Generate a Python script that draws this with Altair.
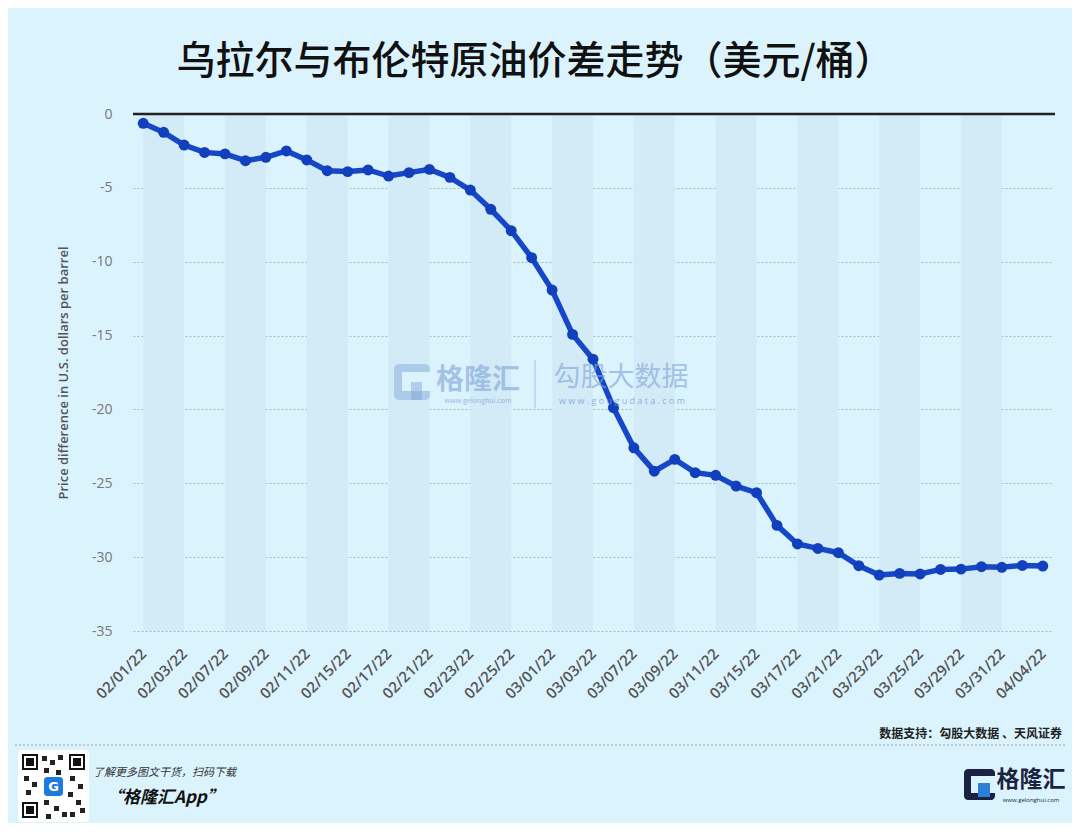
import altair as alt
import pandas as pd

# ---------------- data ----------------
dates = ["02/01/22","02/02/22","02/03/22","02/04/22","02/07/22","02/08/22","02/09/22","02/10/22",
         "02/11/22","02/14/22","02/15/22","02/16/22","02/17/22","02/18/22","02/21/22","02/22/22",
         "02/23/22","02/24/22","02/25/22","02/28/22","03/01/22","03/02/22","03/03/22","03/04/22",
         "03/07/22","03/08/22","03/09/22","03/10/22","03/11/22","03/14/22","03/15/22","03/16/22",
         "03/17/22","03/18/22","03/21/22","03/22/22","03/23/22","03/24/22","03/25/22","03/28/22",
         "03/29/22","03/30/22","03/31/22","04/01/22","04/04/22"]
values = [-0.63, -1.24, -2.10, -2.60, -2.70, -3.16, -2.93, -2.50, -3.11, -3.84, -3.90, -3.79,
          -4.20, -3.97, -3.75, -4.29, -5.15, -6.45, -7.90, -9.73, -11.92, -14.92, -16.60, -19.88,
          -22.60, -24.18, -23.38, -24.28, -24.46, -25.19, -25.64, -27.85, -29.11, -29.41, -29.70,
          -30.58, -31.21, -31.10, -31.14, -30.83, -30.81, -30.65, -30.69, -30.56, -30.60]
y_ticks = [0, -5, -10, -15, -20, -25, -30, -35]
label_idx = list(range(0, len(dates), 2))
stripe_starts = list(range(0, 44, 4))

title_text = "乌拉尔与布伦特原油价差走势（美元/桶）"
y_title = "Price difference in U.S. dollars per barrel"
source_text = "数据支持：勾股大数据 、天风证券"

BG = "#dbf3fd"
STRIPE = "#d2ebf7"
LINE = "#1547c8"
CJK = "Noto Sans CJK SC"

df = pd.DataFrame({"i": list(range(len(dates))), "date": dates, "v": values})
stripes = pd.DataFrame({"s": stripe_starts, "e": [s + 2 for s in stripe_starts]})
one = pd.DataFrame({"a": [0]})

W, H = 920, 517
OX, OY = 133, 114  # page position of plot origin


def px(x):
    return x - OX


def py(y):
    return y - OY


labels_js = "[" + ",".join("'" + d + "'" for d in dates) + "]"
xscale = alt.Scale(domain=[-0.5, len(dates) - 0.5], nice=False, zero=False)
xaxis = alt.Axis(values=label_idx, labelExpr=labels_js + "[datum.value]", title=None,
                 labelAngle=-45, labelAlign="right", labelBaseline="middle", labelPadding=20,
                 ticks=False, domain=False, grid=False, labelFont="Open Sans", labelFontSize=15,
                 labelFontWeight=600, labelColor="#555", labelOverlap=False)
yscale = alt.Scale(domain=[-35, 0], nice=False, zero=False)
yaxis = alt.Axis(values=y_ticks, title=y_title, ticks=False, domain=False, grid=True,
                 gridColor="#aab8bf", gridDash=[2, 2], gridWidth=1,
                 labelExpr="replace(datum.label, '\u2212', '-')",
                 labelFont="Open Sans", labelFontSize=14, labelColor="#777", labelPadding=21,
                 titleFont="Open Sans", titleFontSize=13, titleFontWeight=600, titleColor="#555",
                 titleX=-70, titleY=H / 2, titleAlign="center", titleBaseline="middle", titleAngle=-90)

stripe_layer = alt.Chart(stripes).mark_rect(color=STRIPE).encode(
    x=alt.X("s:Q", scale=xscale, axis=xaxis), x2="e:Q",
    y=alt.value(0), y2=alt.value(H))

line = alt.Chart(df).mark_line(color=LINE, strokeWidth=5.5).encode(
    x=alt.X("i:Q", scale=xscale, axis=xaxis),
    y=alt.Y("v:Q", scale=yscale, axis=yaxis))
points = alt.Chart(df).mark_point(filled=True, color="#1240bd", size=120, opacity=1).encode(
    x=alt.X("i:Q", scale=xscale, axis=xaxis),
    y=alt.Y("v:Q", scale=yscale, axis=yaxis))

zero_rule = alt.Chart(one).mark_rule(color="#222", strokeWidth=2.5).encode(
    y=alt.value(0), x=alt.value(0), x2=alt.value(W + 2))


def txt(s, x, y, size, color, weight="normal", font=CJK, align="center", baseline="middle",
        style="normal", opacity=1.0):
    return alt.Chart(one).mark_text(text=s, fontSize=size, color=color, fontWeight=weight, font=font,
                                    align=align, baseline=baseline, fontStyle=style,
                                    opacity=opacity).encode(x=alt.value(px(x)), y=alt.value(py(y)))


def box(x1, y1, x2, y2, color, opacity=1.0, radius=0):
    return alt.Chart(one).mark_rect(color=color, opacity=opacity, cornerRadius=radius).encode(
        x=alt.value(px(x1)), x2=alt.value(px(x2)), y=alt.value(py(y1)), y2=alt.value(py(y2)))


def hline(x1, x2, y, color, dash):
    return alt.Chart(one).mark_rule(color=color, strokeDash=dash, strokeWidth=1).encode(
        x=alt.value(px(x1)), x2=alt.value(px(x2)), y=alt.value(py(y)))


def vline(x, y1, y2, color, opacity):
    return alt.Chart(one).mark_rule(color=color, strokeWidth=1.5, opacity=opacity).encode(
        x=alt.value(px(x)), y=alt.value(py(y1)), y2=alt.value(py(y2)))


deco = []
# title
deco.append(txt(title_text, 535, 62, 39, "#111", weight=500))
# watermark
WM = "#7fa3d6"
deco += [box(394, 364, 430, 400, WM, 0.45, 5), box(402, 372, 431, 391, BG, 1.0),
         box(411, 382, 422, 400, WM, 0.45)]
deco.append(txt("格隆汇", 478, 381, 28, WM, weight="bold", opacity=0.6))
deco.append(txt("www.gelonghui.com", 478, 401, 7, WM, opacity=0.7))
deco.append(vline(535, 360, 408, WM, 0.4))
deco.append(txt("勾股大数据", 621, 378, 27, WM, opacity=0.6))
deco.append(txt("w w w . g o u g u d a t a . c o m", 622, 401, 9, WM, font="Open Sans", opacity=0.8))
# source
deco.append(txt(source_text, 1062, 734, 12, "#222", weight="bold", align="right"))
deco.append(hline(15, 1066, 745, "#9aa5aa", [2, 2]))
# QR code placeholder
deco.append(box(18, 750, 89, 822, "#ffffff", 1.0, 4))
for (fx, fy) in [(22, 754), (69, 754), (22, 802)]:
    deco += [box(fx, fy, fx + 16, fy + 16, "#111"), box(fx + 2, fy + 2, fx + 14, fy + 14, "#fff"),
             box(fx + 4, fy + 4, fx + 12, fy + 12, "#111")]
for (qx, qy) in [(42, 756), (50, 760), (58, 755), (44, 768), (56, 770), (24, 776), (32, 782),
                 (70, 776), (78, 784), (26, 790), (68, 792), (76, 800), (44, 800), (54, 806),
                 (62, 812), (46, 814), (70, 812), (80, 808)]:
    deco.append(box(qx, qy, qx + 5, qy + 5, "#222"))
deco.append(box(44, 777, 63, 796, "#1f7ae0", 1.0, 3))
deco.append(txt("G", 53.5, 787, 13, "#fff", weight="bold", font="DejaVu Sans"))
deco.append(txt("了解更多图文干货，扫码下载", 93, 773, 11, "#333", align="left", style="italic"))
deco.append(txt("“格隆汇App”", 106, 798, 17, "#111", weight="bold", align="left", style="italic"))
# bottom-right logo
deco += [box(964, 769, 995, 800, "#1b2340", 1.0, 4), box(971, 776, 996, 793, BG),
         box(978, 783, 990, 797, "#2b7fd4")]
deco.append(txt("格隆汇", 1031, 780, 23, "#1b2340", weight="bold"))
deco.append(txt("www.gelonghui.com", 1031, 800, 6, "#1b2340", font="Open Sans"))

chart = alt.layer(stripe_layer, zero_rule, line, points, *deco).properties(
    width=W, height=H,
    autosize=alt.AutoSizeParams(type="none"),
    padding={"left": OX - 8, "top": OY - 8, "right": 1064 - (OX - 8) - W, "bottom": 815 - (OY - 8) - H},
    background=BG,
).configure_view(stroke=None)

chart.save("out.html", embed_options={"renderer": "svg", "actions": False})
